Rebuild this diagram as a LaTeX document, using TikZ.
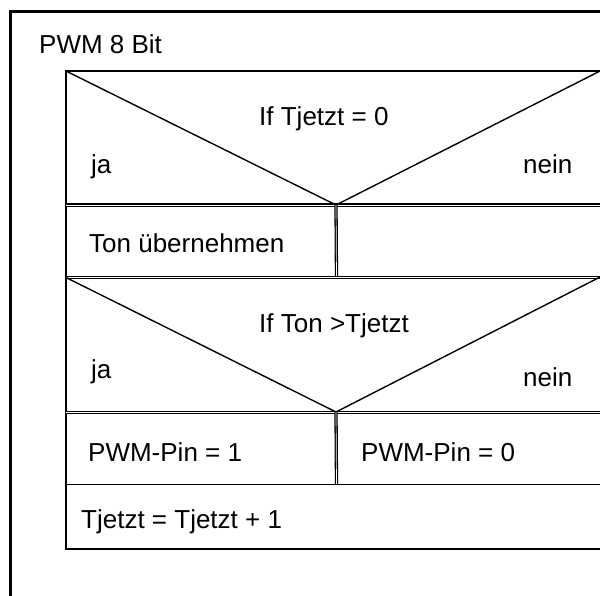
\documentclass[tikz,border=0pt]{standalone}
\usepackage{fontspec}
\setmainfont{Liberation Sans}
\begin{document}
\begin{tikzpicture}[x=1pt,y=-1pt,
  lbl/.style={anchor=base west,inner sep=0pt,font=\fontsize{26}{30}\selectfont},
  thinline/.style={line width=1.4pt},
  dblline/.style={double,line width=1.3pt,double distance=0.7pt},
  frameline/.style={line width=3pt}]
\useasboundingbox (0,0) rectangle (600,595);
% outer frame
\coordinate (fbl) at (10.5,600);
\coordinate (ftl) at (10.5,11.5);
\coordinate (ftr) at (604,11.5);
\draw[frameline] (fbl) -- (ftl) -- (ftr);
% inner structure corners
\coordinate (itl) at (66,71);
\coordinate (itr) at (604,71);
\coordinate (ibl) at (66,549);
\coordinate (ibr) at (604,549);
\coordinate (a1) at (336,205);
\coordinate (a2) at (336,412);
\draw[thinline] (itr) -- (itl) -- (ibl) -- (ibr);
% decision 1
\draw[thinline] (itl) -- (a1) -- (604,69);
\draw[dblline] (66,205) -- (604,205);
\draw[dblline] (a1) -- (336.5,277);
\draw[dblline] (66,277.5) -- (604,277.5);
% decision 2
\draw[thinline] (66,277.5) -- (a2) -- (604,275);
\draw[dblline] (66,412.5) -- (604,412.5);
\draw[dblline] (a2) -- (336.5,484);
\draw[thinline] (66,484.5) -- (604,484.5);
% texts
\node[lbl] (title) at (39,53) {PWM 8 Bit};
\node[lbl] (if1) at (259,125) {If Tjetzt = 0};
\node[lbl] (ja1) at (91,173) {ja};
\node[lbl] (nein1) at (523,173) {nein};
\node[lbl] (ton) at (89,252) {Ton übernehmen};
\node[lbl] (if2) at (259,332) {If Ton >Tjetzt};
\node[lbl] (ja2) at (91,378) {ja};
\node[lbl] (nein2) at (523,386) {nein};
\node[lbl] (pin1) at (88,461) {PWM-Pin = 1};
\node[lbl] (pin0) at (361,461) {PWM-Pin = 0};
\node[lbl] (inc) at (81,528) {Tjetzt = Tjetzt + 1};
\end{tikzpicture}
\end{document}
